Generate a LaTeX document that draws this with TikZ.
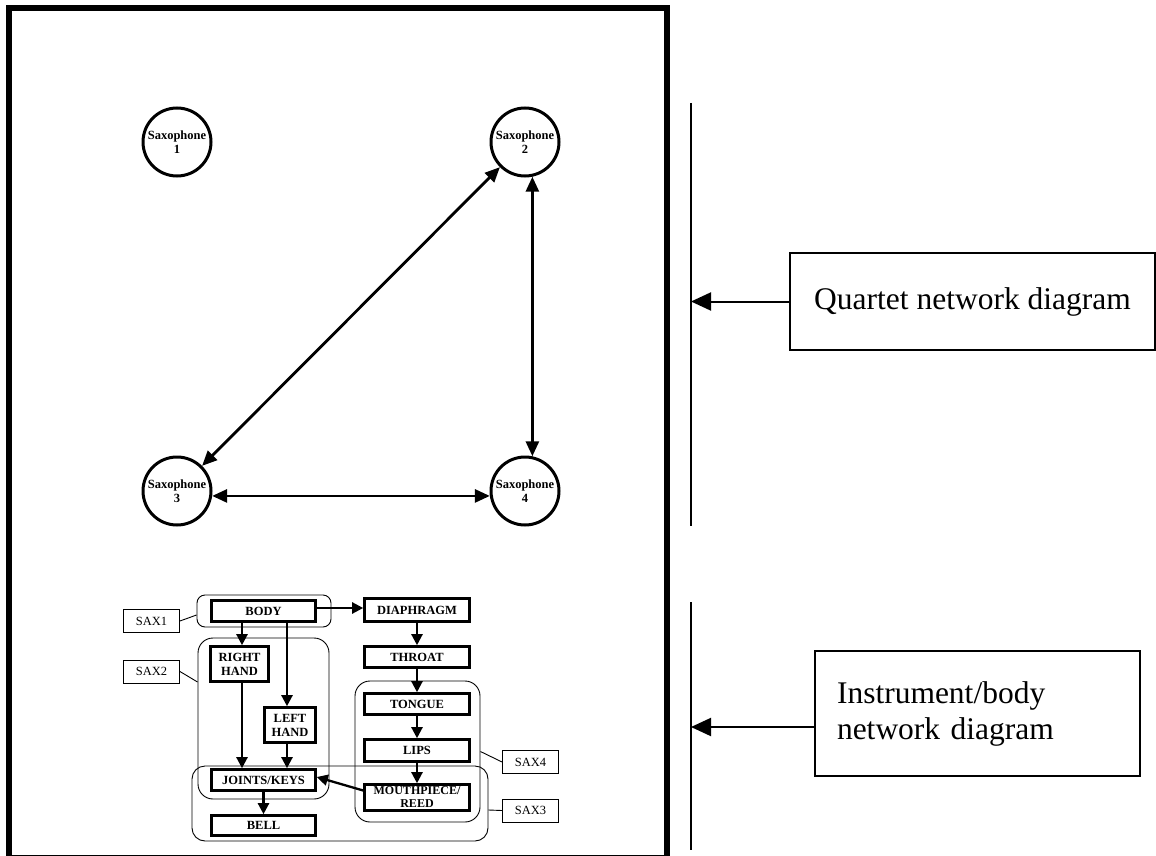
\documentclass[tikz,border=0pt]{standalone}
\usepackage{fontspec}
\setmainfont{Liberation Serif}
\usetikzlibrary{arrows.meta}
\begin{document}
\begin{tikzpicture}[x=1pt,y=-1pt,
  sax/.style={circle, draw, line width=3pt, minimum size=68pt, inner sep=0pt, align=center, font=\fontsize{12.5}{14}\selectfont\bfseries},
  qarrow/.style={line width=2.8pt, {Triangle[length=15pt,width=13pt]}-{Triangle[length=15pt,width=13pt]}},
  part/.style={draw, line width=2.6pt, inner sep=0pt, align=center, font=\fontsize{12.5}{14}\selectfont\bfseries},
  grp/.style={draw, line width=0.9pt, inner sep=0pt},
  lab/.style={draw, line width=0.9pt, inner sep=0pt, minimum width=56pt, minimum height=23pt, font=\fontsize{12.5}{14}\selectfont},
  thinline/.style={line width=0.9pt},
  sarrow/.style={line width=2.3pt, -{Triangle[length=11pt,width=11pt]}},
  bigbox/.style={draw, line width=1.5pt, inner sep=0pt, align=left, font=\fontsize{31.5}{36}\selectfont},
  barrow/.style={line width=2pt, -{Triangle[length=20pt,width=18pt]}},
  rulel/.style={line width=1.6pt}
]
\useasboundingbox (0,0) rectangle (1156,856);
% frame
\draw[line width=6pt] (9,8) rectangle (667,858);

% quartet
\node[sax] (s1) at (177,142) {Saxophone\\1};
\node[sax] (s2) at (525,142) {Saxophone\\2};
\node[sax] (s3) at (177,491) {Saxophone\\3};
\node[sax] (s4) at (525,491) {Saxophone\\4};
\draw[qarrow] (s3) -- (s2);
\draw[qarrow] (s2.-78) -- (s4.78);
\draw[qarrow] (s3.-8) -- (s4.-172);

% groups
\node[grp, rounded corners=8pt, minimum width=134pt, minimum height=32pt] (g1) at (264,611) {};
\node[grp, rounded corners=15pt, minimum width=131pt, minimum height=161pt] (g2) at (263.5,718.5) {};
\node[grp, rounded corners=13pt, minimum width=296pt, minimum height=75pt] (g3) at (340,803.5) {};
\node[grp, rounded corners=15pt, minimum width=125pt, minimum height=141pt] (g4) at (417.5,751.5) {};

% parts
\node[part, minimum width=104pt, minimum height=21pt] (body) at (263.5,611) {BODY};
\node[part, minimum width=58pt, minimum height=35pt] (rh) at (239.5,664) {RIGHT\\HAND};
\node[part, minimum width=51pt, minimum height=35pt] (lh) at (290,725) {LEFT\\HAND};
\node[part, minimum width=104pt, minimum height=21pt] (jk) at (263.5,780) {JOINTS/KEYS};
\node[part, minimum width=104pt, minimum height=20pt] (bell) at (263.5,825.5) {BELL};
\node[part, minimum width=105pt, minimum height=23pt] (diaph) at (417,610) {DIAPHRAGM};
\node[part, minimum width=105pt, minimum height=21pt] (throat) at (417,657) {THROAT};
\node[part, minimum width=105pt, minimum height=21pt] (tongue) at (417,704) {TONGUE};
\node[part, minimum width=105pt, minimum height=22pt] (lips) at (417,750.5) {LIPS};
\node[part, font=\fontsize{12}{13}\selectfont\bfseries, inner ysep=1.2pt, minimum width=105pt, minimum height=26pt] (mouth) at (417,797.5) {MOUTHPIECE/\\REED};

% part arrows
\draw[sarrow] ([yshift=3pt]body.east) -- ([yshift=3pt]body.east -| diaph.west);
\draw[sarrow] ([xshift=2.5pt]rh.north |- body.south) -- ([xshift=2.5pt]rh.north);
\draw[sarrow] ([xshift=-3pt]lh.north |- body.south) -- ([xshift=-3pt]lh.north);
\draw[sarrow] ([xshift=2.5pt]rh.south) -- ([xshift=2.5pt]rh.south |- jk.north);
\draw[sarrow] ([xshift=-3pt]lh.south) -- ([xshift=-3pt]lh.south |- jk.north);
\draw[sarrow] (jk.south) -- (bell.north);
\draw[sarrow] (diaph.south) -- (throat.north);
\draw[sarrow] (throat.south) -- (tongue.north);
\draw[sarrow] (tongue.south) -- (lips.north);
\draw[sarrow] (lips.south) -- (mouth.north);
\draw[sarrow] ([yshift=7pt]mouth.west) -- ([yshift=3pt]jk.east);

% labels
\node[lab] (l1) at (151.5,621) {SAX1};
\node[lab] (l2) at (151.5,671.5) {SAX2};
\node[lab] (l4) at (530.5,762) {SAX4};
\node[lab] (l3) at (530.5,810.5) {SAX3};
\draw[thinline] (l1.east) -- ([yshift=-4pt]g1.west);
\draw[thinline] (l2.east) -- ([yshift=36.5pt]g2.west);
\draw[thinline] (l4.west) -- (g4.east);
\draw[thinline] (l3.west) -- ([yshift=-6.5pt]g3.east);

% right side
\coordinate (r1a) at (691,103);
\coordinate (r1b) at (691,526);
\coordinate (r2a) at (691,602);
\coordinate (r2b) at (691,850);
\draw[rulel] (r1a) -- (r1b);
\draw[rulel] (r2a) -- (r2b);
\node[bigbox, minimum width=365pt, minimum height=97pt, align=center] (qbox) at (972.5,301.5) {Quartet network diagram};
\node[bigbox, text width=281pt, inner xsep=22pt, minimum height=125pt] (ibox) at (977.5,713.5) {Instrument/body\\network diagram};
\draw[barrow] (qbox.west) -- (qbox.west -| r1a);
\draw[barrow] ([yshift=-13.5pt]ibox.west) -- ([yshift=-13.5pt]ibox.west -| r2a);
\end{tikzpicture}
\end{document}
